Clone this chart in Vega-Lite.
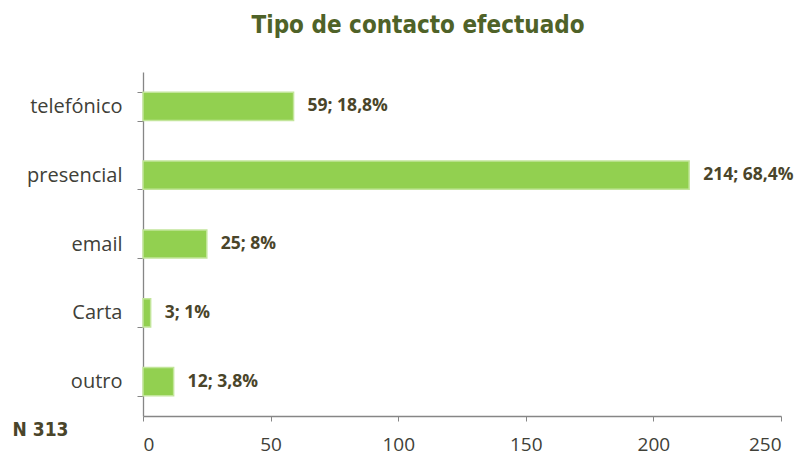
{
  "$schema": "https://vega.github.io/schema/vega-lite/v6.json",
  "autosize": {"type": "none"},
  "padding": {"left": 143, "top": 72, "right": 23, "bottom": 43},
  "width": 638,
  "height": 344,
  "background": "#ffffff",
  "title": {
    "text": "Tipo de contacto efectuado",
    "font": "DejaVu Sans Condensed, Liberation Sans Narrow, sans-serif",
    "fontSize": 24,
    "fontWeight": "bold",
    "color": "#4f6228",
    "anchor": "middle",
    "baseline": "alphabetic",
    "offset": 39,
    "dx": -44,
    "dy": 34
  },
  "config": {
    "view": {"stroke": null},
    "axis": {"labelFont": "Open Sans", "titleFont": "Open Sans"}
  },
  "data": {
    "values": [
      {"tipo": "telefónico", "n": 59, "label": "59; 18,8%"},
      {"tipo": "presencial", "n": 214, "label": "214; 68,4%"},
      {"tipo": "email", "n": 25, "label": "25; 8%"},
      {"tipo": "Carta", "n": 3, "label": "3; 1%"},
      {"tipo": "outro", "n": 12, "label": "12; 3,8%"}
    ]
  },
  "encoding": {
    "y": {
      "field": "tipo",
      "type": "nominal",
      "sort": ["telefónico", "presencial", "email", "Carta", "outro"],
      "scale": {"paddingInner": 0.59, "paddingOuter": 0.295},
      "axis": {
        "title": "N 313",
        "titleAngle": 0,
        "titleX": -131,
        "titleY": 363,
        "titleAlign": "left",
        "titleBaseline": "alphabetic",
        "titleFont": "DejaVu Sans Condensed, Liberation Sans Narrow, sans-serif",
        "titleFontSize": 19,
        "titleFontWeight": "bold",
        "titleColor": "#4a452a",
        "labelFontSize": 20,
        "labelColor": "#404038",
        "labelPadding": 15,
        "tickBand": "extent",
        "tickSize": 6,
        "tickColor": "#868686",
        "domainColor": "#868686",
        "domainWidth": 1.3,
        "grid": false
      }
    },
    "x": {
      "field": "n",
      "type": "quantitative",
      "scale": {"domain": [0, 250], "nice": false},
      "axis": {
        "title": null,
        "values": [0, 50, 100, 150, 200, 250],
        "labelFontSize": 19,
        "labelColor": "#404038",
        "labelPadding": 14,
        "tickSize": 5,
        "tickColor": "#868686",
        "domainColor": "#868686",
        "domainWidth": 1.3,
        "grid": false
      }
    }
  },
  "layer": [
    {
      "mark": {"type": "bar", "color": "#92d050", "stroke": "#c2e59a", "strokeWidth": 1.5}
    },
    {
      "mark": {
        "type": "text",
        "align": "left",
        "baseline": "middle",
        "dx": 14,
        "font": "Open Sans",
        "fontSize": 17.5,
        "fontWeight": "bold",
        "color": "#4a452a"
      },
      "encoding": {"text": {"field": "label"}}
    }
  ]
}
